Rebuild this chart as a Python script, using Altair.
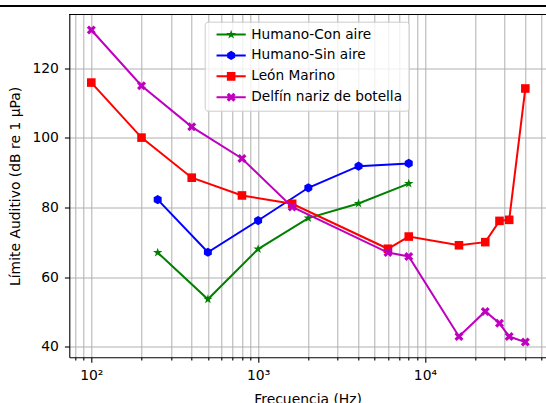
import math
import altair as alt
import pandas as pd

# ---------------- data ----------------
series_names = ["Humano-Con aire", "Humano-Sin aire", "León Marino", "Delfín nariz de botella"]
series_colors = ["#008000", "#0000ff", "#ff0000", "#bf00bf"]

freq_humano = [250, 500, 1000, 2000, 4000, 8000]
humano_con_aire = [67.1, 53.7, 68.1, 77.0, 81.2, 86.9]
humano_sin_aire = [82.3, 67.2, 76.3, 85.7, 91.9, 92.7]

freq_marinos = [100, 200, 400, 800, 1600, 6000, 8000, 16000, 23000, 28000, 32000, 40000]
leon_marino = [115.9, 100.1, 88.6, 83.5, 81.1, 68.2, 71.7, 69.2, 70.1, 76.2, 76.5, 114.2]
delfin = [131.0, 115.0, 103.2, 94.1, 80.2, 67.1, 66.0, 43.0, 50.2, 46.8, 43.0, 41.4]

y_ticks = [40, 60, 80, 100, 120]
x_major = [100, 1000, 10000]
x_major_labels = ["10²", "10³", "10⁴"]

rows = []
for name, fx, vals in [
    (series_names[0], freq_humano, humano_con_aire),
    (series_names[1], freq_humano, humano_sin_aire),
    (series_names[2], freq_marinos, leon_marino),
    (series_names[3], freq_marinos, delfin),
]:
    for f, v in zip(fx, vals):
        rows.append({"serie": name, "frecuencia": f, "limite": v})
df = pd.DataFrame(rows)

# ---------------- layout constants ----------------
W, H = 476.7, 342.8
PAD_L, PAD_T = 69.3, 14.5
X_DOMAIN = [73.8, 53200]
Y_DOMAIN = [37.04, 135.44]
FONT = "DejaVu Sans"
FS = 13.9

x_minor = [v * 10 ** k for k in (1, 2, 3, 4) for v in range(1, 10)
           if X_DOMAIN[0] <= v * 10 ** k <= X_DOMAIN[1]]

label_expr = " : ".join(f"datum.value == {v} ? '{t}'" for v, t in zip(x_major, x_major_labels)) + " : ''"
major_test = " || ".join(f"datum.value == {v}" for v in x_major)

# ---------------- marker paths (pixel units, size=4 -> scale 1) ----------------
def poly(pts):
    return "M" + "L".join(f"{x:.3f},{y:.3f}" for x, y in pts) + "Z"

def star(R):
    r = R * 0.382
    pts = []
    for k in range(10):
        ang = math.radians(-90 + 36 * k)
        rr = R if k % 2 == 0 else r
        pts.append((rr * math.cos(ang), rr * math.sin(ang)))
    return poly(pts)

def hexagon(R):
    return poly([(R * math.cos(math.radians(-90 + 60 * k)),
                  R * math.sin(math.radians(-90 + 60 * k))) for k in range(6)])

def square(h):
    return poly([(-h, -h), (h, -h), (h, h), (-h, h)])

def xfilled(s):
    base = [(-1, -2), (0, -1), (1, -2), (2, -1), (1, 0), (2, 1),
            (1, 2), (0, 1), (-1, 2), (-2, 1), (-1, 0), (-2, -1)]
    return poly([(x * s, y * s) for x, y in base])

markers = [star(4.9), hexagon(4.6), square(4.3), xfilled(2.25)]
line_seg = poly([(-14.6, -1.0), (14.6, -1.0), (14.6, 1.0), (-14.6, 1.0)])
legend_shapes = [line_seg + m for m in markers]

x_enc = alt.X("frecuencia:Q",
              scale=alt.Scale(type="log", domain=X_DOMAIN, nice=False),
              axis=alt.Axis(values=x_minor, labelExpr=label_expr,
                            tickSize={"condition": {"test": major_test, "value": 4.9}, "value": 2.8},
                            grid=True, labelPadding=6, title="Frecuencia (Hz)",
                            titlePadding=10, labelFlush=False, labelOverlap=False))
y_enc = alt.Y("limite:Q",
              scale=alt.Scale(domain=Y_DOMAIN, nice=False, zero=False),
              axis=alt.Axis(values=y_ticks, grid=True, tickSize=4.9, labelPadding=6,
                            title="Límite Auditivo (dB re 1 μPa)", titlePadding=9))

base = alt.Chart(df)
layers = []
for name, col, mk in zip(series_names, series_colors, markers):
    sub = base.transform_filter(alt.datum.serie == name)
    layers.append(sub.mark_line(strokeWidth=2, color=col).encode(x=x_enc, y=y_enc))
    layers.append(sub.mark_point(filled=True, size=4, opacity=1, color=col, shape=mk)
                  .encode(x=x_enc, y=y_enc))

LEG_X, LEG_Y = 135.4, 7.2
legend_layer = base.mark_point(filled=True, size=4, opacity=0).encode(
    x=x_enc, y=y_enc,
    color=alt.Color("serie:N", scale=alt.Scale(domain=series_names, range=series_colors),
                    legend=alt.Legend(title=None, orient="none", legendX=LEG_X, legendY=LEG_Y)),
    shape=alt.Shape("serie:N", scale=alt.Scale(domain=series_names, range=legend_shapes),
                    legend=alt.Legend(title=None, orient="none", legendX=LEG_X, legendY=LEG_Y)),
)

frame_top = base.mark_rule(color="black", strokeWidth=1.1).encode(
    x=alt.value(0), x2=alt.value(W), y=alt.value(0))
fig_top = base.mark_rule(color="black", strokeWidth=1.4, clip=False).encode(
    x=alt.value(-PAD_L), x2=alt.value(546 - PAD_L), y=alt.value(6 - PAD_T))

chart = alt.layer(*layers, legend_layer, frame_top, fig_top).properties(
    width=W, height=H,
    autosize=alt.AutoSizeParams(type="none"),
    padding={"left": PAD_L, "top": PAD_T, "right": 0, "bottom": 403 - PAD_T - H},
).configure_view(stroke=None).configure_axis(
    labelFont=FONT, titleFont=FONT, labelFontSize=FS, titleFontSize=FS,
    titleFontWeight="normal", labelColor="black", titleColor="black",
    domainColor="black", domainWidth=1.1, tickColor="black", tickWidth=1.1,
    gridColor="#b0b0b0", gridWidth=1.0,
).configure_legend(
    labelFont=FONT, labelFontSize=13.7, labelColor="black",
    symbolSize=4, symbolStrokeWidth=0, symbolOpacity=1,
    symbolOffset=13.6, labelOffset=13.3, rowPadding=5.9,
    padding=6, fillColor="rgba(255,255,255,0.8)", strokeColor="#cccccc",
    cornerRadius=3, labelLimit=300,
)

chart.save("out.html", embed_options={"renderer": "svg", "actions": False})
